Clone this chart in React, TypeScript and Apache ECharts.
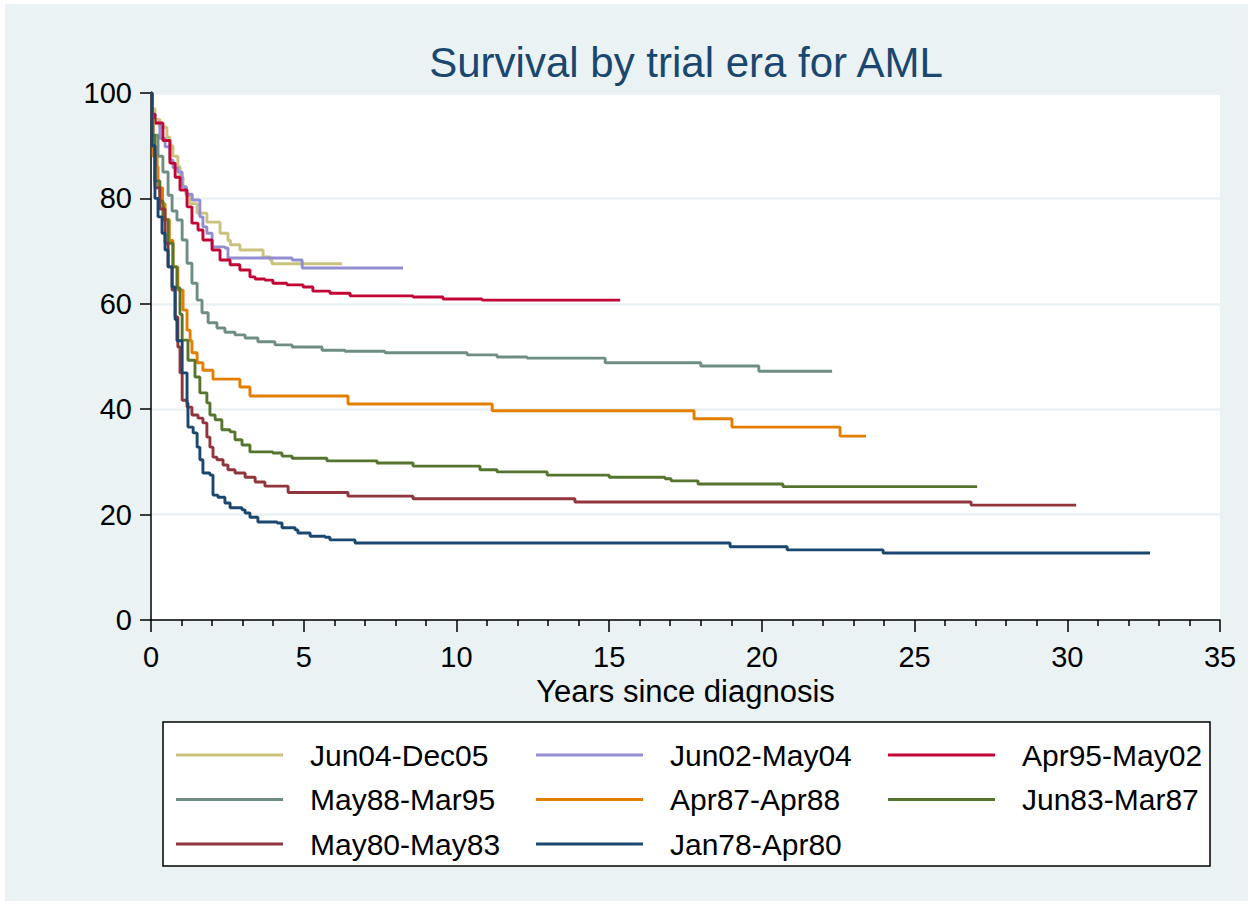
import React, { useEffect, useRef } from "react";
import * as echarts from "echarts";

const titleText = "Survival by trial era for AML";
const xAxisTitle = "Years since diagnosis";

const seriesNames = [
  "Jun04-Dec05",
  "Jun02-May04",
  "Apr95-May02",
  "May88-Mar95",
  "Apr87-Apr88",
  "Jun83-Mar87",
  "May80-May83",
  "Jan78-Apr80",
];

const seriesColors = [
  "#cac27e",
  "#938dd2",
  "#c10534",
  "#6e8e84",
  "#e37e00",
  "#55752f",
  "#90353b",
  "#1a476f",
];

// [years since diagnosis, % surviving]
const jun04Dec05: [number, number][] = [
  [0, 100], [0.03, 97], [0.13, 95], [0.29, 93.5], [0.52, 91.6], [0.62, 90], [0.72, 88],
  [0.88, 86], [0.95, 84], [1.05, 82.2], [1.15, 80.5], [1.28, 79], [1.51, 77.2], [1.83, 75.5],
  [2.26, 73.4], [2.52, 72], [2.6, 71.2], [2.91, 70.2], [3.67, 68.9], [3.9, 68.3], [3.96, 67.6],
  [6.25, 67.6],
];

const jun02May04: [number, number][] = [
  [0, 100], [0.03, 96], [0.13, 94.3], [0.29, 91.4], [0.46, 89.8], [0.62, 87.3], [0.72, 85.8],
  [0.88, 85], [1.02, 82.2], [1.15, 80.8], [1.35, 79.7], [1.6, 76.5], [1.7, 74.6], [1.83, 73.4],
  [2.0, 70.8], [2.42, 70.6], [2.52, 68.7], [4.62, 68.3], [4.95, 66.8], [8.25, 66.8],
];

const apr95May02: [number, number][] = [
  [0, 100], [0.03, 96], [0.13, 94.3], [0.39, 91], [0.62, 86.7], [0.79, 84], [0.95, 81.6],
  [1.18, 78.4], [1.34, 75.3], [1.54, 74], [1.7, 72.1], [2.0, 70.2], [2.26, 68.3], [2.59, 67.4],
  [2.91, 66.4], [3.24, 65.1], [3.41, 64.7], [3.73, 64.5], [3.99, 63.9], [4.45, 63.6], [4.98, 63.2],
  [5.3, 62.4], [5.86, 62.0], [6.52, 61.5], [8.58, 61.3], [9.56, 60.9], [10.84, 60.7], [15.36, 60.7],
];

const may88Mar95: [number, number][] = [
  [0, 100], [0.03, 95], [0.07, 92], [0.23, 88], [0.39, 85], [0.56, 80.6], [0.69, 77.6],
  [0.85, 75.9], [1.02, 72.1], [1.18, 67.7], [1.34, 63.9], [1.51, 60.7], [1.67, 58.3], [1.87, 56.4],
  [2.16, 55.4], [2.42, 54.6], [2.75, 54.1], [3.08, 53.5], [3.5, 52.8], [4.06, 52.2], [4.62, 51.8],
  [5.6, 51.2], [6.35, 51.0], [7.66, 50.7], [10.35, 50.3], [11.33, 49.9], [12.31, 49.7],
  [14.87, 48.8], [18.0, 48.2], [19.9, 47.2], [22.3, 47.2],
];

const apr87Apr88: [number, number][] = [
  [0, 100], [0.03, 95], [0.07, 88], [0.2, 86], [0.23, 82], [0.38, 79], [0.46, 76], [0.6, 72],
  [0.72, 67], [0.88, 62.6], [1.05, 58.8], [1.18, 55], [1.28, 53], [1.34, 50.7], [1.51, 48.8],
  [1.7, 47.4], [2.03, 45.7], [2.91, 44.2], [3.24, 42.5], [6.45, 41.0], [11.17, 39.7],
  [17.78, 38.2], [19.02, 36.6], [22.56, 34.9], [23.41, 34.9],
];

const jun83Mar87: [number, number][] = [
  [0, 100], [0.03, 92], [0.13, 83.3], [0.29, 79.5], [0.39, 75.9], [0.56, 71.5], [0.72, 67],
  [0.85, 63], [0.95, 58], [1.02, 53.1], [1.21, 49.3], [1.44, 46.1], [1.6, 43.1], [1.83, 41.2],
  [1.93, 38.9], [2.1, 38], [2.32, 36.1], [2.59, 35.7], [2.75, 34.2], [2.98, 33.2], [3.24, 31.9],
  [3.99, 31.7], [4.29, 31.1], [4.62, 30.7], [5.76, 30.2], [7.4, 29.8], [8.58, 29.2],
  [10.77, 28.5], [11.33, 28.1], [12.97, 27.5], [15.0, 27.1], [16.83, 26.8], [17.03, 26.4],
  [17.91, 25.8], [20.69, 25.3], [27.05, 25.3],
];

const may80May83: [number, number][] = [
  [0, 100], [0.03, 90], [0.13, 82], [0.29, 78], [0.46, 71.5], [0.56, 67], [0.69, 62.6],
  [0.79, 57.5], [0.88, 51.8], [0.95, 46.9], [1.02, 41.7], [1.18, 40.4], [1.34, 38.9],
  [1.54, 38.3], [1.7, 37.4], [1.83, 34.7], [1.93, 32.8], [2.03, 30.9], [2.16, 30.4],
  [2.36, 29.4], [2.52, 28.5], [2.75, 27.9], [3.08, 27.1], [3.41, 26.2], [3.73, 25.4],
  [4.49, 24.2], [6.45, 23.5], [8.58, 23.0], [13.88, 22.4], [26.85, 21.8], [30.29, 21.8],
];

const jan78Apr80: [number, number][] = [
  [0, 100], [0.03, 90], [0.13, 80], [0.23, 76.5], [0.36, 73.4], [0.46, 70.2], [0.56, 67],
  [0.69, 63.2], [0.79, 57], [0.85, 53], [1.02, 46.9], [1.18, 41.2], [1.21, 36.6], [1.38, 35.5],
  [1.51, 32.8], [1.6, 30.4], [1.7, 27.9], [1.93, 27.5], [2.03, 23.7], [2.19, 23.3], [2.42, 22.2],
  [2.59, 21.3], [2.98, 20.9], [3.08, 20.3], [3.24, 19.5], [3.5, 18.6], [4.13, 18.4], [4.29, 17.5],
  [4.72, 17.1], [4.81, 16.5], [5.21, 15.9], [5.7, 15.7], [5.86, 15.2], [6.68, 14.6],
  [18.96, 13.9], [20.83, 13.3], [23.97, 12.7], [32.71, 12.7],
];

const seriesData = [
  jun04Dec05, jun02May04, apr95May02, may88Mar95,
  apr87Apr88, jun83Mar87, may80May83, jan78Apr80,
];

const legendColumns = [
  ["Jun04-Dec05", "May88-Mar95", "May80-May83"],
  ["Jun02-May04", "Apr87-Apr88", "Jan78-Apr80"],
  ["Apr95-May02", "Jun83-Mar87"],
];

const FONT = "'Liberation Sans', Arial, Helvetica, sans-serif";

export default function App() {
  const ref = useRef<HTMLDivElement>(null);

  useEffect(() => {
    if (!ref.current) return;
    const chart = echarts.init(ref.current, null, { renderer: "svg" });
    const legendLefts = [171, 531, 883];
    const option: any = {
      animation: false,
      backgroundColor: "#EAF2F3",
      textStyle: { fontFamily: FONT },
      grid: {
        left: 151,
        top: 93,
        width: 1069,
        height: 527,
        show: true,
        backgroundColor: "#ffffff",
        borderWidth: 0,
      },
      graphic: [
        { type: "rect", z: 0, shape: { x: 0, y: 0, width: 1252, height: 4 }, style: { fill: "#fff" } },
        { type: "rect", z: 0, shape: { x: 0, y: 901, width: 1252, height: 4 }, style: { fill: "#fff" } },
        { type: "rect", z: 0, shape: { x: 0, y: 0, width: 5, height: 905 }, style: { fill: "#fff" } },
        { type: "rect", z: 0, shape: { x: 1248, y: 0, width: 4, height: 905 }, style: { fill: "#fff" } },
        {
          type: "rect",
          z: 1,
          shape: { x: 163, y: 722, width: 1047, height: 144 },
          style: { fill: "#ffffff", stroke: "#000000", lineWidth: 1.5 },
        },
        {
          type: "text",
          z: 5,
          x: 686,
          y: 62,
          style: {
            text: titleText,
            fill: "#1a476f",
            fontSize: 42,
            fontFamily: FONT,
            align: "center",
            verticalAlign: "middle",
          },
        },
      ],
      legend: legendColumns.map((col, i) => ({
        orient: "vertical",
        left: legendLefts[i],
        top: 735,
        data: col,
        selectedMode: false,
        icon: "rect",
        itemWidth: 107,
        itemHeight: 3,
        itemGap: 14.5,
        textStyle: {
          fontSize: 30,
          lineHeight: 30,
          color: "#000",
          fontFamily: FONT,
          padding: [0, 0, 0, 22],
        },
      })),
      xAxis: {
        type: "value",
        min: 0,
        max: 35,
        interval: 5,
        name: xAxisTitle,
        nameLocation: "middle",
        nameGap: 49,
        nameTextStyle: { fontSize: 31, color: "#000", fontFamily: FONT },
        axisLine: { show: true, onZero: false, lineStyle: { color: "#000", width: 1.5 } },
        axisTick: { show: true, length: 12, lineStyle: { color: "#000", width: 1.5 } },
        minorTick: { show: true, splitNumber: 5, length: 6, lineStyle: { color: "#000", width: 1.5 } },
        axisLabel: { fontSize: 29, color: "#000", margin: 22, fontFamily: FONT },
        splitLine: { show: false },
      },
      yAxis: {
        type: "value",
        min: 0,
        max: 100,
        interval: 20,
        axisLine: { show: true, onZero: false, lineStyle: { color: "#000", width: 1.5 } },
        axisTick: { show: true, length: 11, lineStyle: { color: "#000", width: 1.5 } },
        axisLabel: { fontSize: 29, color: "#000", margin: 19, fontFamily: FONT },
        splitLine: { show: true, lineStyle: { color: "#EAF2F3", width: 2.5 } },
      },
      series: seriesNames.map((name, i) => ({
        name,
        type: "line",
        step: "end",
        symbol: "none",
        data: seriesData[i],
        lineStyle: { color: seriesColors[i], width: 2.9 },
        itemStyle: { color: seriesColors[i] },
        z: 2 + i * 0.01,
      })),
    };
    chart.setOption(option);
    return () => chart.dispose();
  }, []);

  return (
    <div
      ref={ref}
      style={{ position: "fixed", left: 0, top: 0, width: 1252, height: 905 }}
    />
  );
}
